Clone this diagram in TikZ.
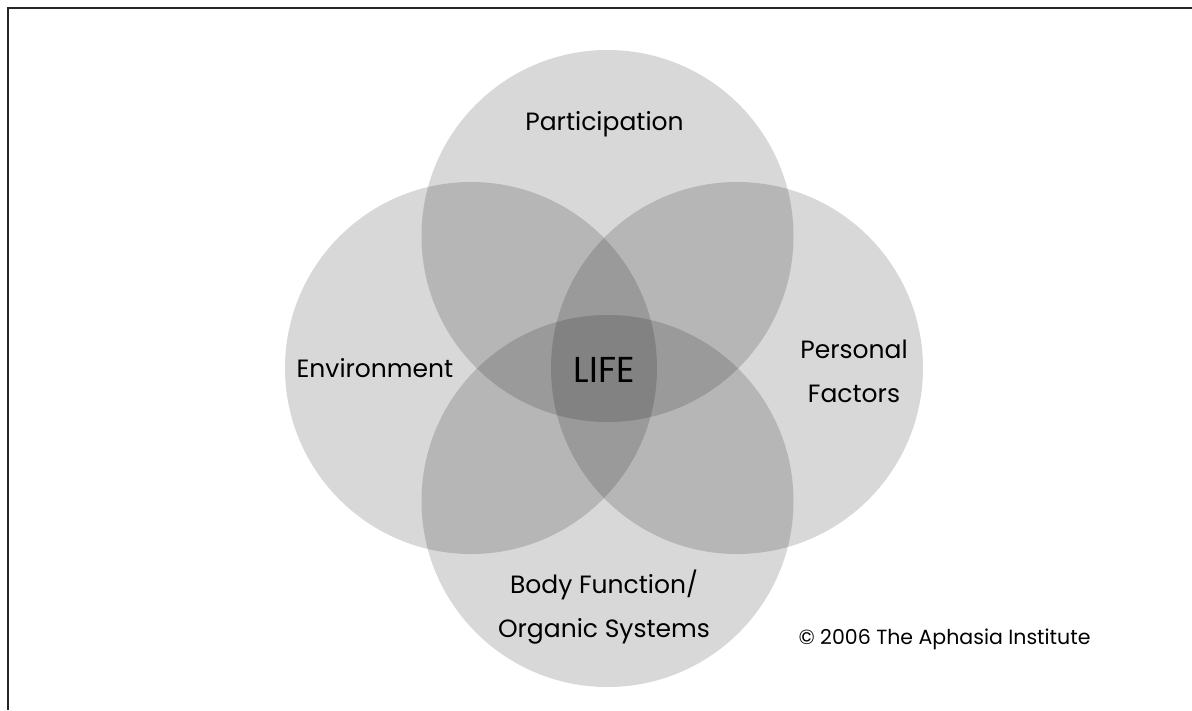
\documentclass[tikz,border=0pt]{standalone}
\usepackage{fontspec}
\setmainfont{Poppins}
\begin{document}
\begin{tikzpicture}[x=1pt,y=-1pt,
  venn/.style={circle,minimum size=372pt,inner sep=0pt,fill=black,fill opacity=0.153,draw=none},
  lbl/.style={anchor=base,align=center,text=black,font=\fontsize{25}{44}\selectfont},
  lifelbl/.style={anchor=base,text=black,font=\fontsize{36}{40}\selectfont},
  copy/.style={anchor=base,text=black,font=\fontsize{20.5}{24}\selectfont}]
\useasboundingbox (0,0) rectangle (1192,710);
\fill[white] (0,0) rectangle (1192,710);
\draw[line width=1.6pt,black!85] (1192,8) coordinate (fr) -- (8,8) coordinate (fc) -- (8,710) coordinate (fb);
\node[venn] (cpart) at (607.5,236) {};
\node[venn] (cenv) at (471,368) {};
\node[venn] (cpers) at (737,368) {};
\node[venn] (cbody) at (607.5,501) {};
\node[lbl] (tpart) at (604.5,130) {Participation};
\node[lbl] (tenv) at (375,377) {Environment};
\node[lbl] (tpers) at (854,402) {Personal\\Factors};
\node[lifelbl] (tlife) at (604.5,382) {LIFE};
\node[lbl] (tbody) at (604,637) {Body Function/\\Organic Systems};
\node[copy] (tcopy) at (944.5,644) {© 2006 The Aphasia Institute};
\end{tikzpicture}
\end{document}
